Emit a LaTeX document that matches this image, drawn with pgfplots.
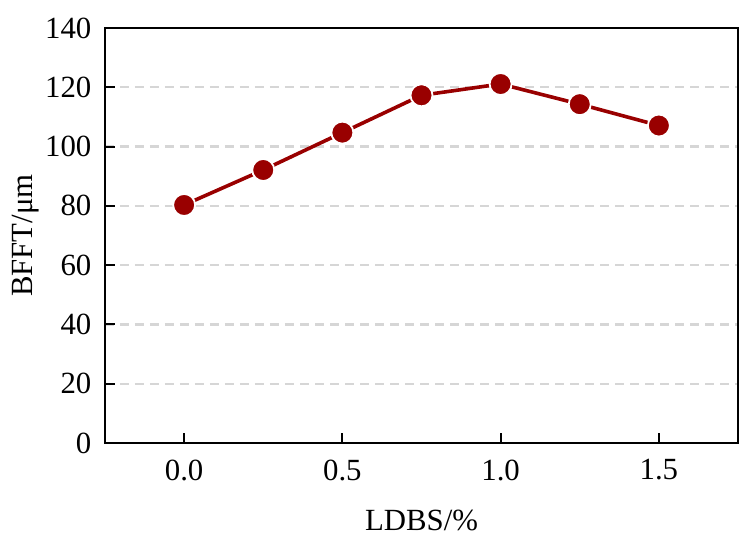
\documentclass[border=0pt]{standalone}
\usepackage{pgfplots}
\pgfplotsset{compat=1.18}
\usepackage{fontspec}
\setmainfont{Liberation Serif}
\definecolor{dred}{HTML}{990000}
\begin{document}
\fontsize{15.4}{18}\selectfont
\begin{tikzpicture}
\begin{axis}[
    scale only axis,
    width=316.5pt,
    height=207.5pt,
    xmin=-0.25, xmax=1.75,
    ymin=0, ymax=140,
    xtick={0,0.5,1,1.5},
    ytick={0,20,40,60,80,100,120,140},
    xticklabel style={/pgf/number format/fixed, /pgf/number format/fixed zerofill,
        /pgf/number format/precision=1, yshift=-3pt},
    /pgf/number format/assume math mode=true,
    tick align=inside,
    xtick pos=lower,
    ytick pos=left,
    major tick length=5pt,
    axis line style={black, line width=1pt},
    tick style={black, line width=1pt},
    ymajorgrids,
    grid style={draw=black!16, line width=1.1pt, dash pattern=on 4.5pt off 3pt},
    yticklabel style={xshift=-1.5pt},
    xlabel={LDBS/\%},
    ylabel={BFFT/μm},
    xlabel style={at={(axis description cs:0.5,-0.186)}, anchor=center},
    ylabel style={at={(axis description cs:-0.126,0.5)}, anchor=center, rotate=0},
]
\addplot[dred, line width=1.8pt, mark=*, mark size=5.5pt,
    mark options={fill=dred, draw=white, line width=0.9pt}]
coordinates {
    (0,80.3)
    (0.25,92.1)
    (0.5,104.7)
    (0.75,117.3)
    (1.0,121.1)
    (1.25,114.3)
    (1.5,107.1)
};
\end{axis}
\path[use as bounding box] ([shift={(-52.5pt,-50pt)}]current axis.south west) rectangle ([shift={(6pt,14pt)}]current axis.north east);
\end{tikzpicture}
\end{document}
